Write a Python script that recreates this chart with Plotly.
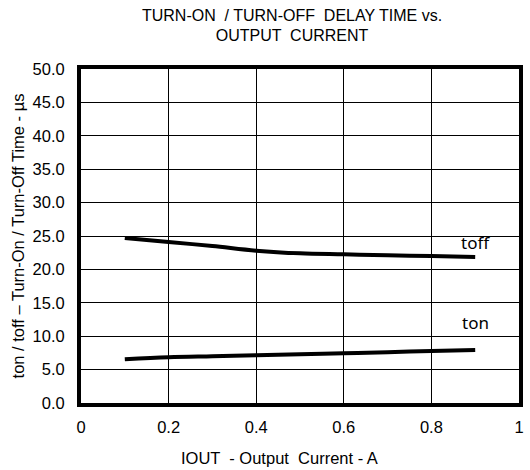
import plotly.graph_objects as go

iout = [0.1, 0.2, 0.3, 0.4, 0.5, 0.6, 0.7, 0.8, 0.9]
toff = [24.7, 24.1, 23.5, 22.8, 22.4, 22.25, 22.1, 22.0, 21.85]
ton = [6.55, 6.85, 7.0, 7.15, 7.3, 7.45, 7.6, 7.8, 7.95]
xticks = [0, 0.2, 0.4, 0.6, 0.8, 1]
xticktext = ["0", "0.2", "0.4", "0.6", "0.8", "1"]

FONT = "Liberation Sans, Arial, sans-serif"
FS = 16.5

fig = go.Figure()
fig.add_trace(go.Scatter(x=iout, y=toff, mode="lines", line=dict(color="black", width=4, shape="spline"), name="toff"))
fig.add_trace(go.Scatter(x=iout, y=ton, mode="lines", line=dict(color="black", width=4, shape="spline"), name="ton"))

fig.add_annotation(x=0.9, y=24.0, text="toff", showarrow=False, font=dict(family="Noto Sans, sans-serif", size=17, color="black"))
fig.add_annotation(x=0.9, y=12.0, text="ton", showarrow=False, font=dict(family="Noto Sans, sans-serif", size=17, color="black"))
fig.add_annotation(x=0.454, y=-0.165, xref="paper", yref="paper", xanchor="center", yanchor="middle",
                   text="IOUT  - Output  Current - A", showarrow=False, font=dict(family=FONT, size=FS, color="black"))

fig.update_layout(
    width=530, height=470,
    margin=dict(l=81, r=11, t=69, b=67, autoexpand=False),
    paper_bgcolor="white", plot_bgcolor="white",
    showlegend=False,
    font=dict(family=FONT, size=FS, color="black"),
    title=dict(text="TURN-ON  / TURN-OFF  DELAY TIME vs.<br>OUTPUT  CURRENT", x=0.551, xanchor="center",
               y=0.956, yanchor="middle", yref="container",
               font=dict(family=FONT, size=16, color="black")),
)
fig.update_xaxes(range=[0, 1], tickvals=xticks, ticktext=xticktext, automargin=False,
                 showgrid=True, gridcolor="black", gridwidth=1, zeroline=False,
                 showline=True, linecolor="black", linewidth=4, mirror=True, ticks="outside", ticklen=6, tickcolor="white")
fig.update_yaxes(range=[0, 50], dtick=5, tickformat=".1f", automargin=False,
                 showgrid=True, gridcolor="black", gridwidth=1, zeroline=False,
                 showline=True, linecolor="black", linewidth=4, mirror=True, ticks="outside", ticklen=9, tickcolor="white",
                 title=dict(text="ton / toff – Turn-On / Turn-Off Time - µs", standoff=5, font=dict(size=FS)))

fig.write_html("out.html", config={"displayModeBar": False},
               post_script="document.body.style.margin='0';document.body.style.overflow='hidden';")
